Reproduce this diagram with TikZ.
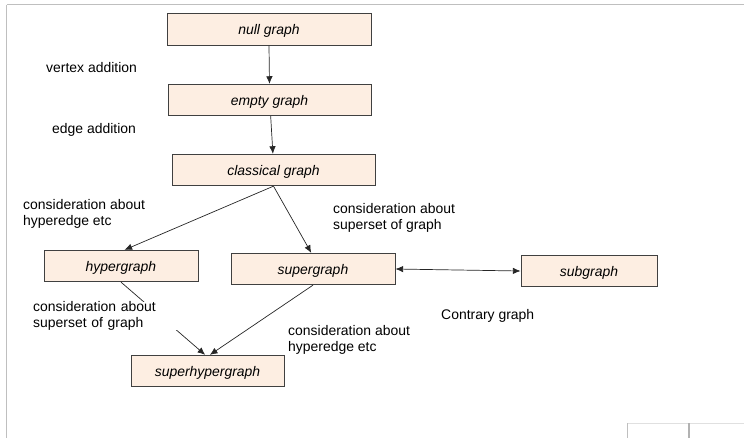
\documentclass[tikz,border=0pt]{standalone}
\usepackage{fontspec}
\setmainfont{Liberation Sans}
\usetikzlibrary{arrows.meta,positioning}
\definecolor{boxfill}{RGB}{253,238,226}
\definecolor{boxline}{RGB}{64,64,64}

\begin{document}
\begin{tikzpicture}[x=0.03cm,y=-0.03cm,
    font=\fontsize{11.9}{13.6}\selectfont,
    graphbox/.style={draw=boxline,fill=boxfill,line width=0.8pt,
      minimum height=0.94cm,inner sep=0pt,text depth=0pt,
      font=\fontsize{11.9}{13.6}\selectfont\itshape},
    note/.style={anchor=west,inner sep=0pt,align=left},
    link/.style={-{Latex[length=6.5pt,width=5.5pt]},line width=0.6pt,black!85}]

  \useasboundingbox (0,0) rectangle (744,438);

  % page frame
  \draw [black!25,line width=0.8pt] (7,4.5) -- (744,4.5);
  \draw [black!25,line width=0.8pt] (6.5,4.5) -- (6.5,438);
  \draw [black!12,line width=0.6pt] (627.5,423) -- (744,423);
  \draw [black!25,line width=0.6pt] (627.5,423) -- (627.5,438);
  \draw [black!30,line width=1pt] (689,423) -- (689,438);

  \node (null) [graphbox,minimum width=6.12cm] at (269,29.5) {null graph};
  \node (empty) [graphbox,minimum width=6.09cm] at (269.5,100) {empty graph};
  \node (classical) [graphbox,minimum width=6.09cm] at (273.5,170) {classical graph};
  \node (hyper) [graphbox,minimum width=4.62cm] at (121,266) {hypergraph};
  \node (super) [graphbox,minimum width=4.92cm] at (313,269) {supergraph};
  \node (sub) [graphbox,minimum width=4.08cm] at (589,271) {subgraph};
  \node (superhyper) [graphbox,minimum width=4.59cm] at (207.5,371) {superhypergraph};

  \draw [link] (null.south) -- (empty.north);
  \draw [link] ([xshift=1pt]empty.south) -- ([xshift=-0.5pt]classical.north);
  \draw [link] (classical.south) -- ([xshift=3pt]hyper.north);
  \draw [link] (classical.south) -- ([xshift=-1.5pt]super.north);
  \draw [link] (super.south) -- ([xshift=2pt]superhyper.north);
  \draw [link] (hyper.south) -- ([xshift=-2pt]superhyper.north);
  \draw [{Latex[length=6.5pt,width=5.5pt]}-{Latex[length=6.5pt,width=5.5pt]},
         line width=0.6pt,black!85] (super.east) -- (sub.west);

  \node (vadd) [note] at (46,68) {vertex addition};
  \node (eadd) [note] at (52,129.5) {edge addition};
  \node (hyperA) [note] at (23,213.5) {consideration about\\hyperedge etc};
  \node (superA) [note] at (333,218) {consideration about\\superset of graph};
  \node (superB) [note,fill=white,text width=4.41cm] at (33,316)
        {consideration about\\superset of graph};
  \node (hyperB) [note] at (288,339.5) {consideration about\\hyperedge etc};
  \node (contrary) [note] at (441,315.5) {Contrary graph};

\end{tikzpicture}
\end{document}
